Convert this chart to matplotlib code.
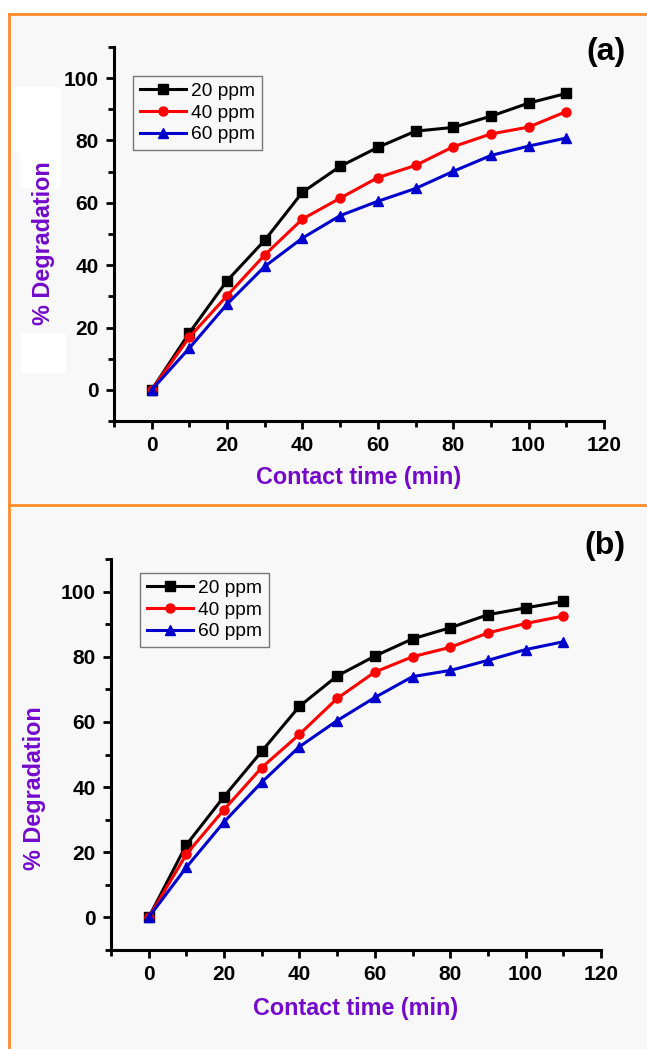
import matplotlib
matplotlib.use("Agg")
import matplotlib.pyplot as plt
from matplotlib.patches import Rectangle
from matplotlib.lines import Line2D
from matplotlib.ticker import MultipleLocator

plt.rcParams['font.family'] = ['Liberation Sans', 'DejaVu Sans']

time = [0, 10, 20, 30, 40, 50, 60, 70, 80, 90, 100, 110]
series_labels = ['20 ppm', '40 ppm', '60 ppm']

a_20 = [0, 18.3, 35.0, 48.0, 63.4, 71.7, 77.8, 83.0, 84.2, 87.8, 92.0, 95.1]
a_40 = [0, 16.9, 30.2, 43.3, 54.8, 61.5, 68.1, 72.0, 78.0, 82.1, 84.3, 89.3]
a_60 = [0, 13.4, 27.5, 39.6, 48.7, 55.9, 60.5, 64.6, 70.1, 75.2, 78.2, 80.8]

b_20 = [0, 22.3, 37.1, 51.0, 64.8, 74.1, 80.2, 85.5, 88.9, 92.9, 95.0, 97.0]
b_40 = [0, 19.4, 33.1, 46.0, 56.2, 67.2, 75.3, 80.0, 82.9, 87.3, 90.2, 92.5]
b_60 = [0, 15.4, 29.3, 41.5, 52.4, 60.4, 67.5, 73.9, 75.8, 78.9, 82.2, 84.6]

x_ticks = [0, 20, 40, 60, 80, 100, 120]
y_ticks = [0, 20, 40, 60, 80, 100]
panel_labels = ['(a)', '(b)']

W, H = 647, 1049
fig = plt.figure(figsize=(W / 100, H / 100), dpi=100, facecolor='white')

def fx(px):
    return px / W

def fy(py):
    return 1 - py / H

# panel background
fig.patches.append(Rectangle((fx(9), 0), 1 - fx(9), fy(14), transform=fig.transFigure,
                             facecolor='#f8f8f8', edgecolor='none', zorder=-2))
# white artifacts near ylabel in (a)
for (x0, y0, x1, y1) in [(12, 87, 61, 153), (20, 153, 61, 188), (21, 333, 66, 373)]:
    fig.patches.append(Rectangle((fx(x0), fy(y1)), fx(x1) - fx(x0), fy(y0) - fy(y1),
                                 transform=fig.transFigure, facecolor='white',
                                 edgecolor='none', zorder=-1))

orange = '#ff8a2a'
for xs, ys in [([fx(9), 1], [fy(14), fy(14)]), ([fx(9), fx(9)], [fy(14), 0]),
               ([fx(9), 1], [fy(505), fy(505)])]:
    fig.add_artist(Line2D(xs, ys, transform=fig.transFigure, color=orange, lw=2, zorder=-0.5))

purple = '#7409cc'

panels = [
    dict(px=(114, 47, 604, 421), data=[a_20, a_40, a_60], label=panel_labels[0],
         labpos=(606, 37), legpos=(133, 76), ylab=(55, 243), xlab_y=466),
    dict(px=(111, 559, 601, 950), data=[b_20, b_40, b_60], label=panel_labels[1],
         labpos=(605, 531), legpos=(140, 573), ylab=(46, 788), xlab_y=997),
]

colors = ['black', '#ff0000', '#0000cc']
markers = ['s', 'o', '^']

for p in panels:
    l, t, r, b = p['px']
    ax = fig.add_axes((fx(l), fy(b), fx(r) - fx(l), fy(t) - fy(b)), zorder=2)
    ax.set_facecolor('none')
    for ys, c, m, lab in zip(p['data'], colors, markers, series_labels):
        ax.plot(time, ys, color=c, marker=m, markersize=6.5, lw=2.2, label=lab, clip_on=False)
    ax.set_xlim(-10, 120)
    ax.set_ylim(-10, 110)
    ax.set_xticks(x_ticks)
    ax.set_yticks(y_ticks)
    ax.xaxis.set_minor_locator(MultipleLocator(10))
    ax.yaxis.set_minor_locator(MultipleLocator(10))
    ax.spines['top'].set_visible(False)
    ax.spines['right'].set_visible(False)
    for s in ['left', 'bottom']:
        ax.spines[s].set_linewidth(2.2)
    ax.tick_params(which='major', direction='out', length=6, width=2, labelsize=15, pad=5)
    ax.tick_params(which='minor', direction='out', length=4, width=2)
    for tl in ax.get_xticklabels() + ax.get_yticklabels():
        tl.set_fontweight('bold')
    ax.set_xlabel('Contact time (min)', color=purple, fontsize=16.8, fontweight='bold')
    ax.set_ylabel('% Degradation', color=purple, fontsize=16.8, fontweight='bold')
    ax.yaxis.set_label_coords((p['ylab'][0] - l) / (r - l), (b - p['ylab'][1]) / (b - t))
    ax.xaxis.set_label_coords(0.5, (b - p['xlab_y']) / (b - t))
    leg = ax.legend(loc='upper left', bbox_to_anchor=(fx(p['legpos'][0]), fy(p['legpos'][1])),
                    bbox_transform=fig.transFigure,
                    fontsize=13.8, frameon=True, fancybox=False, edgecolor='#777777',
                    framealpha=1, facecolor='#f8f8f8', handlelength=2.4, handletextpad=0.28,
                    borderpad=0.35, labelspacing=0.22, borderaxespad=0)
    leg.get_frame().set_linewidth(1)
    fig.text(fx(p['labpos'][0]), fy(p['labpos'][1]), p['label'], fontsize=23, fontweight='bold',
             ha='center', va='top')

fig.savefig('out.png', dpi=100, facecolor='white')
